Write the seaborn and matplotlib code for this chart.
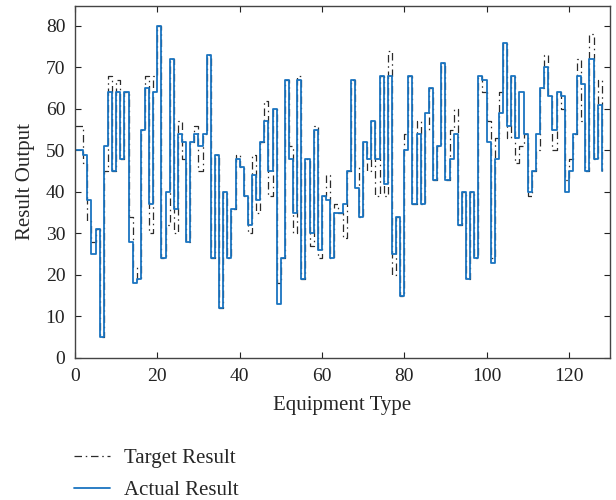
import numpy as np
import pandas as pd
import matplotlib
matplotlib.use("Agg")
import matplotlib.pyplot as plt
import seaborn as sns

equipment = list(range(0, 129))

actual_result = [
    50, 50, 49, 38, 25, 31, 5, 51, 64, 45, 64, 48, 64, 28, 18, 19, 55,
    65, 37, 64, 80, 24, 40, 72, 36, 54, 52, 28, 52, 54, 51, 54, 73,
    24, 49, 12, 40, 24, 36, 48, 46, 39, 32, 44, 38, 52, 57, 45, 60, 13, 24,
    67, 48, 35, 67, 19, 48, 30, 55, 26, 39, 38, 24, 35, 35, 37, 45, 67,
    41, 34, 52, 48, 57, 48, 68, 42, 68, 25, 34, 15, 50, 68, 37, 54, 37,
    59, 65, 43, 51, 71, 43, 48, 54, 32, 40, 19, 40, 24, 68, 67, 52, 23,
    48, 59, 76, 56, 68, 53, 64, 54, 40, 45, 54, 65, 70, 63, 55, 64, 63,
    40, 45, 54, 68, 66, 45, 72, 48, 61, 45,
]

target_result = [
    56, 56, 47, 33, 28, 31, 5, 45, 68, 45, 67, 48, 64, 34, 22, 19, 55,
    68, 30, 68, 80, 24, 32, 72, 30, 57, 48, 28, 52, 56, 45, 54, 73,
    24, 49, 12, 40, 24, 36, 49, 46, 39, 30, 49, 35, 52, 62, 39, 60, 18, 24,
    67, 51, 30, 68, 19, 48, 27, 56, 24, 39, 44, 24, 37, 35, 29, 45, 67,
    46, 34, 52, 45, 57, 39, 68, 39, 74, 20, 34, 15, 54, 68, 37, 57, 37,
    55, 65, 43, 51, 71, 43, 55, 60, 32, 40, 19, 40, 24, 68, 64, 57, 24,
    53, 64, 76, 53, 68, 47, 51, 54, 39, 45, 50, 65, 73, 63, 50, 64, 60,
    43, 48, 54, 72, 57, 45, 78, 48, 67, 45,
]

x_ticks = [0, 20, 40, 60, 80, 100, 120]
y_ticks = [0, 10, 20, 30, 40, 50, 60, 70, 80]

sns.set_theme(style="white")
plt.rcParams["font.family"] = ["Liberation Serif", "DejaVu Serif"]

fig = plt.figure(figsize=(6.16, 5.0), dpi=100)
ax = fig.add_axes([75/616, 1 - 358/500, (610 - 75)/616, (358 - 6)/500])

df = pd.DataFrame({"x": equipment, "target": target_result, "actual": actual_result})

sns.lineplot(data=df, x="x", y="target", ax=ax, drawstyle="steps-post",
             color="#2b2b2b", linewidth=0.9, linestyle=(0, (6, 3, 1.2, 3)),
             label="Target Result", estimator=None, sort=False)
sns.lineplot(data=df, x="x", y="actual", ax=ax, drawstyle="steps-post",
             color="#1a74c0", linewidth=1.3, label="Actual Result",
             estimator=None, sort=False)

ax.set_xlim(0, 130)
ax.set_ylim(0, 84.8)
ax.set_xticks(x_ticks)
ax.set_yticks(y_ticks)
ax.set_xlabel("Equipment Type", fontsize=15, labelpad=8)
ax.set_ylabel("Result Output", fontsize=15, labelpad=8)
ax.tick_params(axis="both", which="both", direction="in", length=4, width=0.8,
               top=True, right=True, bottom=True, left=True, labelsize=14,
               colors="#222222", pad=7)
for s in ax.spines.values():
    s.set_color("#444444")
    s.set_linewidth(1.0)

ax.get_legend().remove()
handles, labels = ax.get_legend_handles_labels()
fig.legend(handles, labels, loc="upper left", bbox_to_anchor=(66/616, 1 - 440/500),
           frameon=False, fontsize=15, handlelength=1.7, labelspacing=0.6,
           handletextpad=0.7, borderaxespad=0)

fig.savefig("out.png", dpi=100)
